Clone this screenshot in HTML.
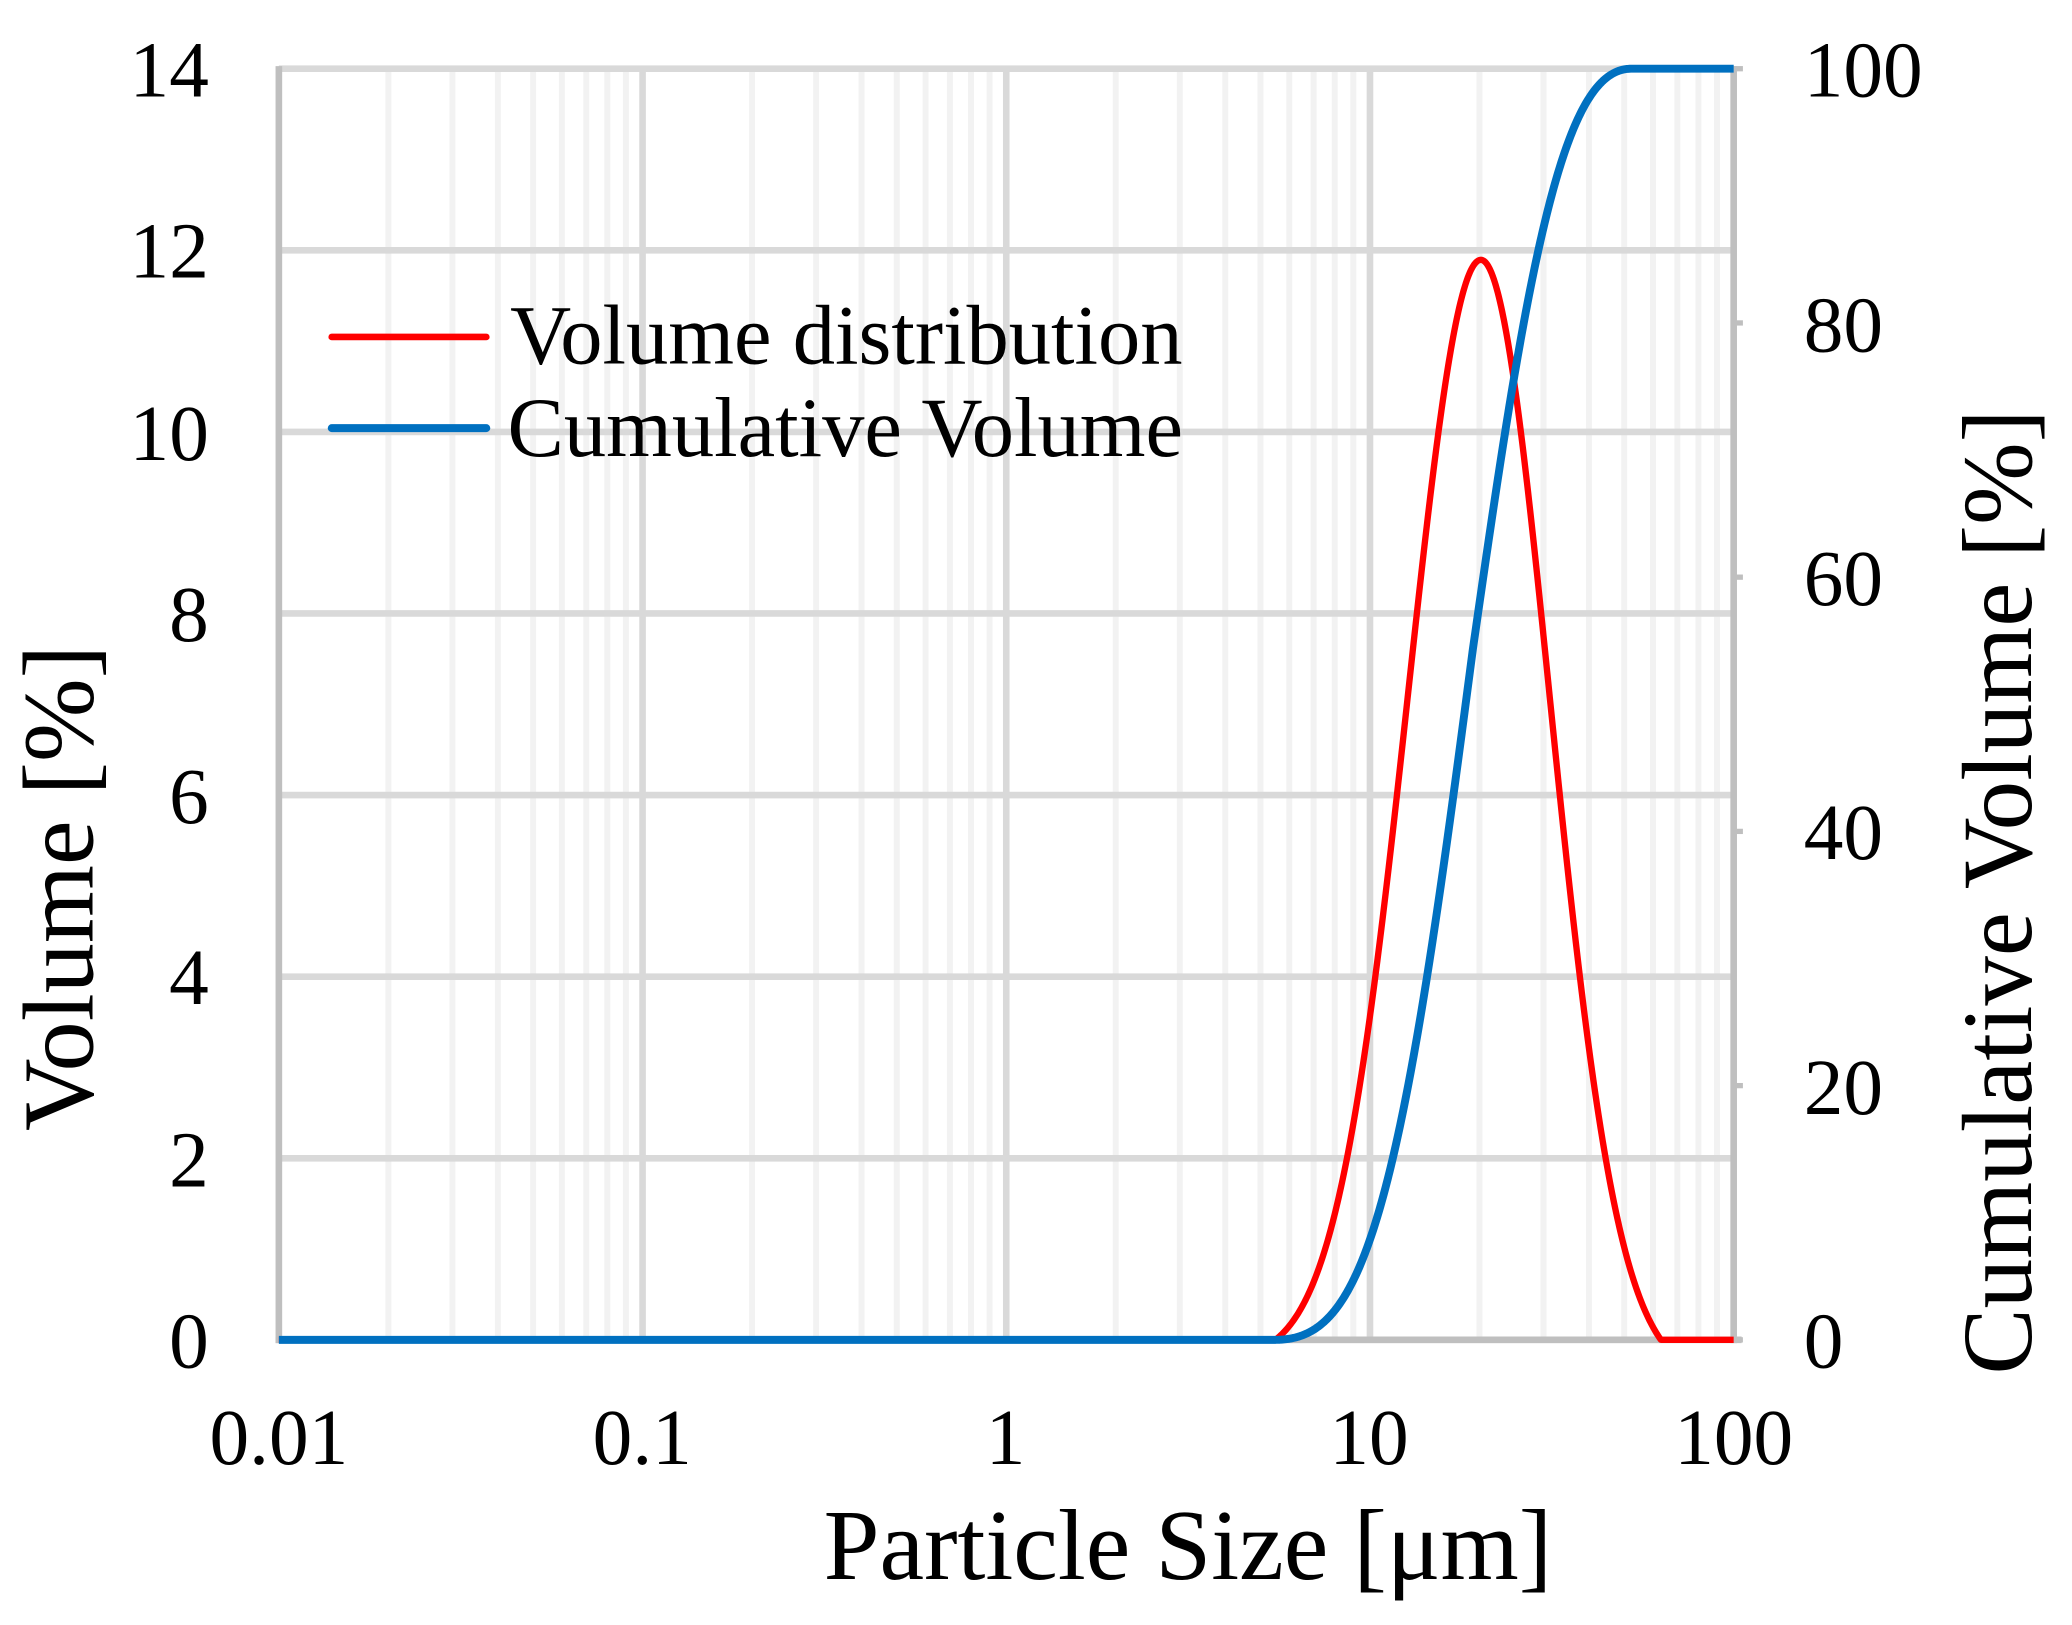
<!DOCTYPE html>
<html><head><meta charset="utf-8">
<style>
html,body{margin:0;padding:0;background:#fff;}
svg{display:block;}
text{font-family:"Liberation Serif","Times New Roman",serif;fill:#000;}
</style></head>
<body>
<svg id="s" width="2072" height="1625" viewBox="0 0 1568 1229.8" xmlns="http://www.w3.org/2000/svg">
<rect width="1568" height="1230" fill="#fff"/>
<g id="grid"></g>
<g id="axes">
<line x1="211" y1="50" x2="211" y2="1016.5" stroke="#bfbfbf" stroke-width="5"/>
<line x1="208.5" y1="1014" x2="1318" y2="1014" stroke="#bfbfbf" stroke-width="5"/>
<line x1="1312" y1="50" x2="1312" y2="1016.5" stroke="#bfbfbf" stroke-width="5"/>
</g>
<path id="red" fill="none" stroke="#ff0000" stroke-width="4.8" stroke-linejoin="round"/>
<path id="blue" fill="none" stroke="#0070c0" stroke-width="6" stroke-linejoin="round"/>
<g font-size="60" text-anchor="end">
<text x="158" y="1035">0</text>
<text x="158" y="898">2</text>
<text x="158" y="760">4</text>
<text x="158" y="623">6</text>
<text x="158" y="485">8</text>
<text x="158" y="348">10</text>
<text x="158" y="210">12</text>
<text x="158" y="73">14</text>
</g>
<g font-size="60" text-anchor="start">
<text x="1365" y="1035">0</text>
<text x="1365" y="843">20</text>
<text x="1365" y="650">40</text>
<text x="1365" y="458">60</text>
<text x="1365" y="266">80</text>
<text x="1365" y="73">100</text>
</g>
<g font-size="60" text-anchor="middle">
<text x="211" y="1108">0.01</text>
<text x="486" y="1108">0.1</text>
<text x="761" y="1108">1</text>
<text x="1036" y="1108">10</text>
<text x="1312" y="1108">100</text>
</g>
<text x="899" y="1195" font-size="76" text-anchor="middle">Particle Size [μm]</text>
<text transform="translate(70,672) rotate(-90)" font-size="76" text-anchor="middle">Volume [%]</text>
<text transform="translate(1537,675) rotate(-90)" font-size="75" text-anchor="middle">Cumulative Volume [%]</text>
<line x1="251" y1="255" x2="368" y2="255" stroke="#ff0000" stroke-width="5" stroke-linecap="round"/>
<line x1="251" y1="324" x2="368" y2="324" stroke="#0070c0" stroke-width="6" stroke-linecap="round"/>
<text x="386" y="275" font-size="64">Volume distribution</text>
<text x="384" y="345" font-size="64">Cumulative Volume</text>
</svg>
<script>
(function(){
var NS="http://www.w3.org/2000/svg";
var L=211,R=1312,T=52,B=1014,dec=(R-L)/4;
function X(lg){return L+(lg+2)*dec;}
function Y1(v){return B-v*(B-T)/14;}
function Y2(v){return B-v*(B-T)/100;}
var g=document.getElementById('grid');
function ln(x1,y1,x2,y2,c,w){var e=document.createElementNS(NS,'line');e.setAttribute('x1',x1);e.setAttribute('y1',y1);e.setAttribute('x2',x2);e.setAttribute('y2',y2);e.setAttribute('stroke',c);e.setAttribute('stroke-width',w);g.appendChild(e);}
for(var d=-2;d<2;d++){for(var k=2;k<=9;k++){var x=X(d+Math.log10(k));ln(x,T,x,B,'#f2f2f2',4.5);}}
for(var i=0;i<=7;i++){var y=Y1(2*i);ln(L,y,R,y,'#d9d9d9',5);}
for(var d=-1;d<2;d++){var x=X(d);ln(x,T,x,B,'#d9d9d9',5);}
for(var i=0;i<=5;i++){var y=Y2(20*i);ln(R,y,R+7,y,'#bfbfbf',4);}
var N=1400,r="",b="",dens=[],lgs=[];
for(var i=0;i<=N;i++){
 var lg=-2+4*i/N; lgs.push(lg);
 var mu=1.305,sg=lg<mu?0.2:0.19;
 var v=0;
 if(lg>0.74&&lg<1.8){var e0=Math.exp(-Math.pow(((lg<mu?0.74:1.8)-mu)/sg,2)/2);v=12.2*(Math.exp(-Math.pow((lg-mu)/sg,2)/2)-e0)/(1-e0)*0.975;if(v<0)v=0;}
 var dd=0;
 if(lg>0.74&&lg<1.72){var m2=1.285,s2=0.21,a=Math.exp(-Math.pow(((lg<m2?0.74:1.72)-m2)/s2,2)/2);dd=Math.exp(-Math.pow((lg-m2)/s2,2)/2)-a;if(dd<0)dd=0;}
 dens.push(dd);
 r+=(i?"L":"M")+X(lg).toFixed(2)+","+Y1(v).toFixed(2);
}
var tot=0;for(var i=0;i<=N;i++)tot+=dens[i];
var acc=0;
for(var i=0;i<=N;i++){acc+=dens[i];var c=acc/tot;
 b+=(i?"L":"M")+X(lgs[i]).toFixed(2)+","+Y2(c*100).toFixed(2);}
document.getElementById('red').setAttribute('d',r);
document.getElementById('blue').setAttribute('d',b);
})();
</script>
</body></html>
